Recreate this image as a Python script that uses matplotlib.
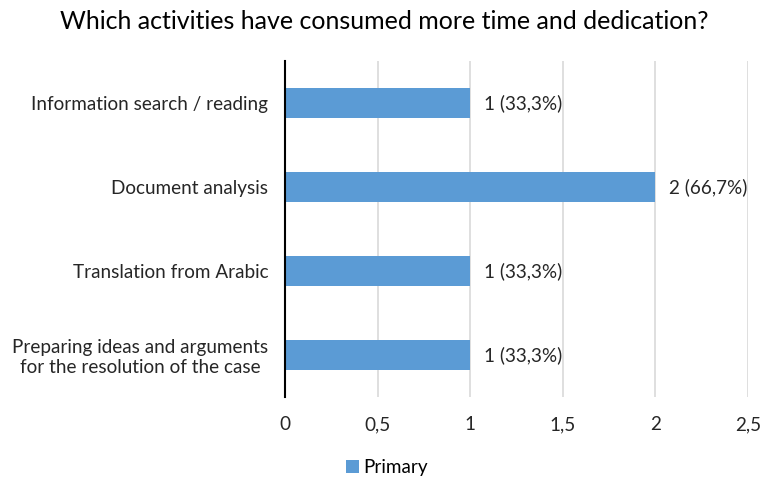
import matplotlib
matplotlib.use('Agg')
import matplotlib.pyplot as plt
import numpy as np

# Activities and their response counts
activities = ['Information search / reading',
              'Document analysis',
              'Translation from Arabic',
              'Preparing ideas and arguments\nfor the resolution of the case']
counts = [1, 2, 1, 1]
percents = ['33,3%', '66,7%', '33,3%', '33,3%']
xticks = [0, 0.5, 1, 1.5, 2, 2.5]
xtick_labels = ['0', '0,5', '1', '1,5', '2', '2,5']

plt.rcParams['font.family'] = ['Lato', 'DejaVu Sans']
fs = 13.6

fig = plt.figure(figsize=(7.63, 4.78), dpi=100)
ax = fig.add_axes([0.3735, 0.1695, 0.6068, 0.7029])

y = np.arange(len(activities))
bars = ax.barh(y, counts, height=0.36, color='#5B9BD5', label='Primary', zorder=3)

for yi, c, p in zip(y, counts, percents):
    ax.text(c + 0.075, yi, f'{c} ({p})', va='center', ha='left', fontsize=fs, color='#262626')

ax.set_ylim(len(activities) - 0.5, -0.5)
ax.set_xlim(0, 2.5)
ax.set_yticks(y)
ax.set_yticklabels(activities, fontsize=fs, color='#262626', ha='right',
                   multialignment='center')
ax.set_xticks(xticks)
ax.set_xticklabels(xtick_labels, fontsize=fs, color='#262626')
ax.tick_params(axis='both', length=0)
ax.tick_params(axis='x', pad=14)
ax.tick_params(axis='y', pad=12)
ax.grid(axis='x', color='#D9D9D9', linewidth=1.2, zorder=0)

for s in ['top', 'right', 'bottom']:
    ax.spines[s].set_visible(False)
ax.spines['left'].set_color('#000000')
ax.spines['left'].set_linewidth(1.5)
ax.spines['left'].set_zorder(4)

fig.text(0.503, 0.955, 'Which activities have consumed more time and dedication?',
         ha='center', va='center', fontsize=18, color='#000000')

fig.legend(handles=[bars], labels=['Primary'], loc='center', bbox_to_anchor=(0.507, 0.022),
           frameon=False, fontsize=fs, handlelength=0.7, handleheight=0.7, handletextpad=0.25)

fig.savefig('out.png', dpi=100)
